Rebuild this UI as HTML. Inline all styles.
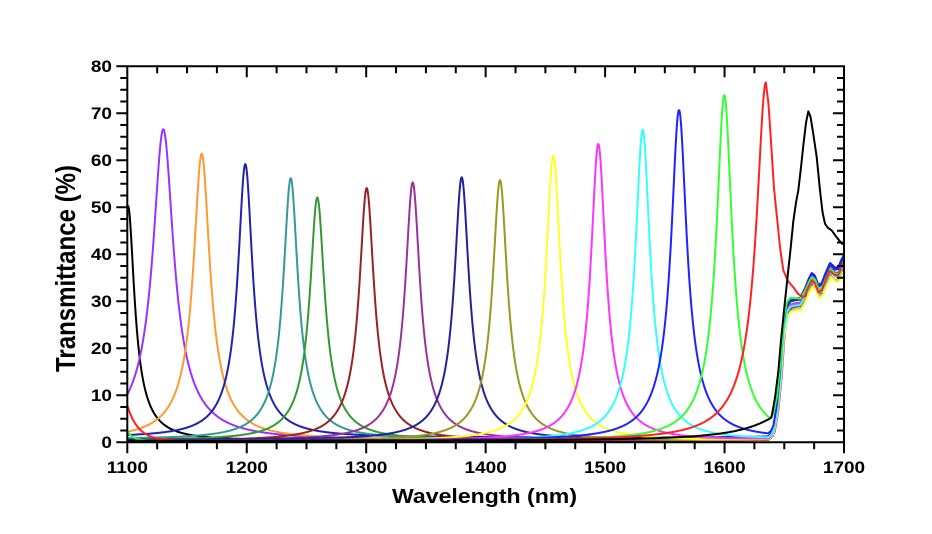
<!DOCTYPE html>
<html><head><meta charset="utf-8">
<style>
html,body{margin:0;padding:0;background:#fff;}
svg{display:block;}
text{font-family:"Liberation Sans",Arial,sans-serif;font-weight:bold;fill:#000;}
</style></head><body>
<svg id="s" width="932" height="534" viewBox="0 0 932 534" xmlns="http://www.w3.org/2000/svg">
<rect width="932" height="534" fill="#fff"/>
<defs><clipPath id="clp"><rect x="127.3" y="66" width="716.7" height="376.3"/></clipPath></defs>
<g id="curves" clip-path="url(#clp)" fill="none" stroke-width="2" stroke-linejoin="round" stroke-linecap="round"></g>
<g id="axes" stroke="#000" fill="none" stroke-width="2"></g>
<g font-size="19" text-anchor="end">
<text transform="translate(112,71.8) scale(1,0.88)">80</text>
<text transform="translate(112,118.8) scale(1,0.88)">70</text>
<text transform="translate(112,165.8) scale(1,0.88)">60</text>
<text transform="translate(112,212.8) scale(1,0.88)">50</text>
<text transform="translate(112,260.1) scale(1,0.88)">40</text>
<text transform="translate(112,307.1) scale(1,0.88)">30</text>
<text transform="translate(112,354.1) scale(1,0.88)">20</text>
<text transform="translate(112,401.1) scale(1,0.88)">10</text>
<text transform="translate(112,448.1) scale(1,0.88)">0</text>
</g>
<g font-size="19" text-anchor="middle">
<text transform="translate(127.3,473) scale(1,0.88)">1100</text>
<text transform="translate(246.75,473) scale(1,0.88)">1200</text>
<text transform="translate(366.2,473) scale(1,0.88)">1300</text>
<text transform="translate(485.65,473) scale(1,0.88)">1400</text>
<text transform="translate(605.1,473) scale(1,0.88)">1500</text>
<text transform="translate(724.55,473) scale(1,0.88)">1600</text>
<text transform="translate(844,473) scale(1,0.88)">1700</text>
</g>
<text transform="translate(484.5,503) scale(1,0.88)" text-anchor="middle" font-size="23" textLength="185" lengthAdjust="spacingAndGlyphs">Wavelength (nm)</text>
<text transform="translate(75,268.5) rotate(-90)" text-anchor="middle" font-size="28" textLength="207" lengthAdjust="spacingAndGlyphs">Transmittance (%)</text>
</svg>
<script>
(function(){
var NS="http://www.w3.org/2000/svg";
var X0=127.3,X1=844,Y0=442.3,YS=4.7,XS=119.45,YT=66.3;
function Y(v){return Y0-v*YS;}
function prof(d,w){var a=2*d/w,b=2*d/(2.8*w);return 0.87/(1+a*a)+0.13/(1+b*b);}
function lin(p,x){
  if(x<=p[0][0])return p[0][1];
  for(var i=1;i<p.length;i++){
    if(x<=p[i][0]){var t=(x-p[i-1][0])/(p[i][0]-p[i-1][0]);return p[i-1][1]+t*(p[i][1]-p[i-1][1]);}
  }
  return p[p.length-1][1];
}
var BP=[[700,0],[768,0.2],[771,0.8],[773.3,1.9],[776.7,6.1],[780,13.2],[783.3,23.2],[786.7,27.4],[790,28.5],[795,28.8],[800,28.9],[805,30.9],[808.3,32.7],[811.7,34.1],[815,33.5],[818.3,31.6],[821.7,32],[825,33.8],[830,36.2],[835,35.2],[838.3,35.3],[841.7,37],[845,38.2]];
function B(x){return lin(BP,x);}
var peaks=[
 {c:128,H:50,w:15,col:'#000000',base:0.3,off:0,dx:0.5},
 {c:163.3,H:66.2,w:24,col:'#9933ff',base:0.4,off:-0.4,dx:1.5},
 {c:201.7,H:60.9,w:19,col:'#ff9933',base:0.5,off:0,dx:0.5},
 {c:245.3,H:58.2,w:17,col:'#2222aa',base:1.0,off:0.8,dx:0},
 {c:290.7,H:55.6,w:17,col:'#339999',base:0.6,off:0.2,dx:0.3},
 {c:317.3,H:51.7,w:17,col:'#339933',base:0.4,off:0,dx:0.5},
 {c:366.7,H:53.8,w:17,col:'#992222',base:0.3,off:-0.2,dx:0.6},
 {c:412.7,H:54.9,w:17,col:'#993399',base:0.4,off:0.2,dx:1},
 {c:461.7,H:55.9,w:17,col:'#22229a',base:0.5,off:0.9,dx:0},
 {c:500,H:55.5,w:17,col:'#999922',base:0.3,off:-1.0,dx:0.8},
 {c:553.3,H:60.7,w:17,col:'#ffff22',base:0.3,off:-1.2,dx:0.8},
 {c:598.3,H:63.2,w:17,col:'#ff33ff',base:0.3,off:0.1,dx:0.4},
 {c:642.7,H:66.2,w:17,col:'#33ffff',base:0.3,off:-0.4,dx:0.4},
 {c:679,H:70.3,w:18,col:'#2222ff',base:0.4,off:0.6,dx:0},
 {c:724.3,H:73.5,w:18,col:'#33ff33',base:0.3,off:-0.5,dx:0.3,ex:function(x){return 2*Math.exp(-(x-127.3)/6);}}
];
var redR=[[766,76.3],[768.5,72],[771,64],[774,54],[777.3,47.2],[780,41.5],[783.3,36.6],[788,34.3],[793.3,33],[798,31.6],[803.3,30.9],[806,31.2]];
var blk2=[[771.7,5.5],[775,9.5],[778.3,15],[780.7,21],[784,28],[787.7,35.5],[790.5,41],[793.3,47],[796,51],[798.3,53.6],[801,58.5],[803.5,63.5],[806,68],[808.3,70.4],[810.5,69.3],[813,66],[816.7,60.7],[820,53.6],[822.5,49],[825,46.5],[828,45.6],[831.7,45.1],[836,43.8],[841.7,42.3],[845,42]];
var g=document.getElementById('curves');
function draw(fn,col){
  var d='';
  for(var x=X0;x<=X1+0.5;x+=0.5){
    var v=fn(x);
    d+=(d?'L':'M')+x.toFixed(1)+' '+Y(v).toFixed(1);
  }
  var p=document.createElementNS(NS,'path');
  p.setAttribute('d',d);p.setAttribute('stroke',col);
  g.appendChild(p);
}
peaks.forEach(function(pk){
  draw(function(x){
    var b=B(x-pk.dx);
    return pk.H*prof(x-pk.c,pk.w)+pk.base+(pk.ex?pk.ex(x):0)+b+pk.off*b/30;
  },pk.col);
});
draw(function(x){
  if(x<=766){return 76.3*prof(x-766,22)+0.3+7.5*Math.exp(-(x-127.3)/11);}
  if(x<=806){return lin(redR,x);}
  return B(x)+0.3;
},'#ff2222');
draw(function(x){
  if(x<771.7){var d=808.3-x,a=2*d/80;return 70.4*0.13/(1+a*a)+0.3;}
  return lin(blk2,x);
},'#000000');
var ax=document.getElementById('axes');
var dd='M'+X0+' '+YT+'H'+X1+'V'+Y0+'H'+X0+'Z';
for(var nm=1100;nm<=1700;nm+=25){
  var x=X0+(nm-1100)*XS/100, L=(nm%100===0)?10:6;
  dd+='M'+x.toFixed(2)+' '+Y0+'V'+(Y0+L);
  dd+='M'+x.toFixed(2)+' '+YT+'V'+(YT+L);
}
for(var v=0;v<=80;v+=2.5){
  var y=Y(v), L2=(v%10===0)?10:6;
  dd+='M'+(X0-L2)+' '+y.toFixed(2)+'H'+X0;
  dd+='M'+(X1-L2)+' '+y.toFixed(2)+'H'+X1;
}
var pa=document.createElementNS(NS,'path');
pa.setAttribute('d',dd);pa.setAttribute('stroke-linecap','square');
ax.appendChild(pa);
})();
</script>
</body></html>
